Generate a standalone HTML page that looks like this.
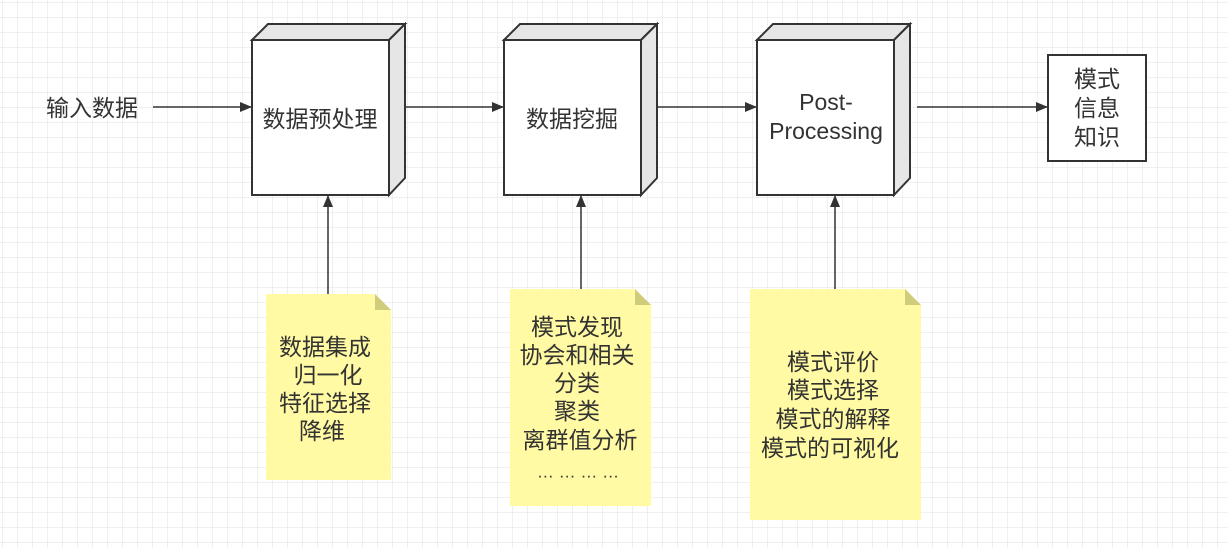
<!DOCTYPE html>
<html><head><meta charset="utf-8"><style>
html,body{margin:0;padding:0;background:#fff;}
svg{display:block;}
text{font-family:"Liberation Sans","Noto Sans CJK SC",sans-serif;fill:#333;font-size:23px;text-anchor:middle;dominant-baseline:central;}
</style></head><body>
<svg width="1228" height="548" viewBox="0 0 1228 548" xmlns="http://www.w3.org/2000/svg">
<defs>
<pattern id="g" width="15" height="15" patternUnits="userSpaceOnUse" x="2" y="2">
<path d="M15 0H0V15" fill="none" stroke="#e2e2e2" stroke-width="1"/>
</pattern>
<marker id="a" markerWidth="12" markerHeight="12" refX="11" refY="6" orient="auto" markerUnits="userSpaceOnUse">
<path d="M0 1L12 6L0 11z" fill="#333"/>
</marker>
</defs>
<rect width="1228" height="548" fill="url(#g)"/>
<g stroke="#333" stroke-width="1.5" fill="none" marker-end="url(#a)">
<line x1="153" y1="107" x2="251" y2="107"/>
<line x1="405" y1="107" x2="503" y2="107"/>
<line x1="657" y1="107" x2="756" y2="107"/>
<line x1="917" y1="107" x2="1047" y2="107"/>
<line x1="328" y1="294" x2="328" y2="196"/>
<line x1="581" y1="289" x2="581" y2="196"/>
<line x1="835" y1="289" x2="835" y2="196"/>
</g>
<g stroke="#333" stroke-width="2" stroke-linejoin="miter">
<g>
<path d="M252 40L268 24H405L389 40Z" fill="#e6e6e6"/>
<path d="M389 40L405 24V178L389 195Z" fill="#e6e6e6"/>
<rect x="252" y="40" width="137" height="155" fill="#fff"/>
</g>
<g>
<path d="M504 40L520 24H657L641 40Z" fill="#e6e6e6"/>
<path d="M641 40L657 24V178L641 195Z" fill="#e6e6e6"/>
<rect x="504" y="40" width="137" height="155" fill="#fff"/>
</g>
<g>
<path d="M757 40L773 24H910L894 40Z" fill="#e6e6e6"/>
<path d="M894 40L910 24V178L894 195Z" fill="#e6e6e6"/>
<rect x="757" y="40" width="137" height="155" fill="#fff"/>
</g>
<rect x="1048" y="55" width="98" height="106" fill="#fff"/>
</g>
<text x="92" y="108">输入数据</text>
<text x="320" y="119">数据预处理</text>
<text x="572" y="119">数据挖掘</text>
<text x="826" y="102">Post-</text>
<text x="826" y="131">Processing</text>
<text x="1097" y="79">模式</text>
<text x="1097" y="108">信息</text>
<text x="1097" y="137">知识</text>
<g>
<path d="M266 294H375L391 310V480H266Z" fill="#fffaa3"/>
<path d="M375 294L391 310H375Z" fill="#cfcc7c"/>
<path d="M510 289H635L651 305V506H510Z" fill="#fffaa3"/>
<path d="M635 289L651 305H635Z" fill="#cfcc7c"/>
<path d="M750 289H905L921 305V520H750Z" fill="#fffaa3"/>
<path d="M905 289L921 305H905Z" fill="#cfcc7c"/>
</g>
<text x="325" y="347">数据集成</text>
<text x="328" y="375">归一化</text>
<text x="325" y="403">特征选择</text>
<text x="322" y="431">降维</text>
<text x="577" y="327">模式发现</text>
<text x="577" y="355">协会和相关</text>
<text x="577" y="383">分类</text>
<text x="577" y="411">聚类</text>
<text x="580" y="440">离群值分析</text>
<text x="578" y="472" style="font-size:17px">… … … …</text>
<text x="833" y="362">模式评价</text>
<text x="833" y="390">模式选择</text>
<text x="833" y="419">模式的解释</text>
<text x="830" y="448">模式的可视化</text>
</svg>
</body></html>
